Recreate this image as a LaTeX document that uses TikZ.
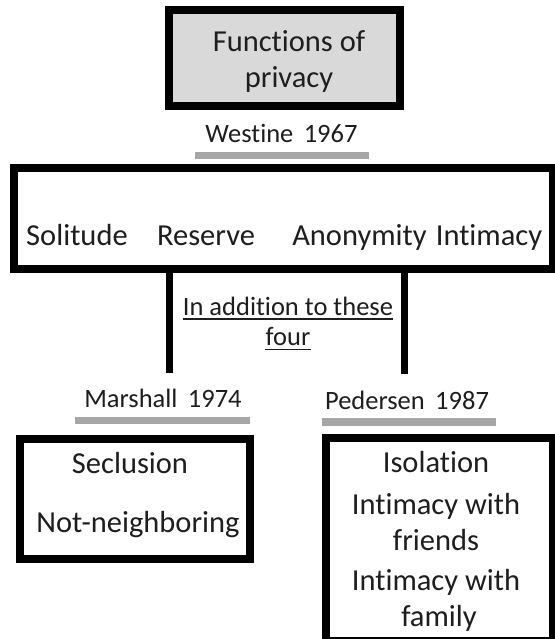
\documentclass[tikz,border=0pt]{standalone}
\usepackage{fontspec}
\setmainfont{Carlito}[RawFeature={-liga;-clig;-calt;-dlig}]
\definecolor{titlegray}{RGB}{217,217,217}
\definecolor{bargray}{RGB}{166,166,166}
\definecolor{ink}{RGB}{30,30,30}
\begin{document}
\begin{tikzpicture}[x=1pt,y=-1pt,
  box/.style={draw=black, line width=8pt, inner sep=0pt},
  txt/.style={inner sep=0pt, anchor=base, text=ink, font=\fontsize{30.5}{36}\selectfont},
  lbl/.style={inner sep=0pt, anchor=base, text=ink, font=\fontsize{26.5}{32}\selectfont},
  bar/.style={fill=bargray, draw=none, inner sep=0pt},
  stem/.style={draw=black, line width=7pt},
  uline/.style={draw=ink, line width=1.5pt}]
\useasboundingbox[fill=white] (0,0) rectangle (554,639);

% boxes
\node[box, fill=titlegray, minimum width=231pt, minimum height=96pt] (title) at (284.5,58) {};
\node[box, minimum width=539pt, minimum height=101pt] (big) at (283.5,218.5) {};
\node[box, minimum width=230pt, minimum height=120pt] (left) at (135,499) {};
\node[box, minimum width=227pt, minimum height=203pt] (right) at (439.5,539.5) {};

% title text
\node[txt] (t1) at (289,52) {Functions of};
\node[txt] (t2) at (289,88) {privacy};

% Westine label
\node[lbl] (west) at (281.5,143) {Westine\, 1967};
\node[bar, minimum width=174pt, minimum height=7pt] (westbar) at (282,155.5) {};

% row of four
\node[txt] (sol) at (77,245) {Solitude};
\node[txt] (res) at (206,245) {Reserve};
\node[txt] (ano) at (359.5,245) {Anonymity};
\node[txt] (inti) at (489,245) {Intimacy};

% stems
\coordinate (stemL) at (169,373);
\coordinate (stemR) at (404,374);
\draw[stem] (big.south -| stemL) -- (stemL);
\draw[stem] (big.south -| stemR) -- (stemR);

% in addition
\node[lbl] (add1) at (288,315) {In addition to these};
\node[lbl] (add2) at (288,345) {four};
\draw[uline] ([yshift=-4pt]add1.base west) -- ([yshift=-4pt]add1.base east);
\draw[uline] ([yshift=-4.5pt]add2.base west) -- ([yshift=-4.5pt]add2.base east);

% Marshall
\node[lbl] (mar) at (163,407) {Marshall\, 1974};
\node[bar, minimum width=175pt, minimum height=7pt] (marbar) at (162.5,420.5) {};

% Pedersen
\node[lbl] (ped) at (407,409) {Pedersen\, 1987};
\node[bar, minimum width=174pt, minimum height=8pt] (pedbar) at (409,422) {};

% left box text
\node[txt] (secl) at (130,473) {Seclusion};
\node[txt] (notn) at (138,532) {Not-neighboring};

% right box text
\node[txt] (iso) at (436,472) {Isolation};
\node[txt] (iwf1) at (436,514) {Intimacy with};
\node[txt] (fri) at (436,550) {friends};
\node[txt] (iwf2) at (436,590) {Intimacy with};
\node[txt] (fam) at (439,626) {family};
\end{tikzpicture}
\end{document}
